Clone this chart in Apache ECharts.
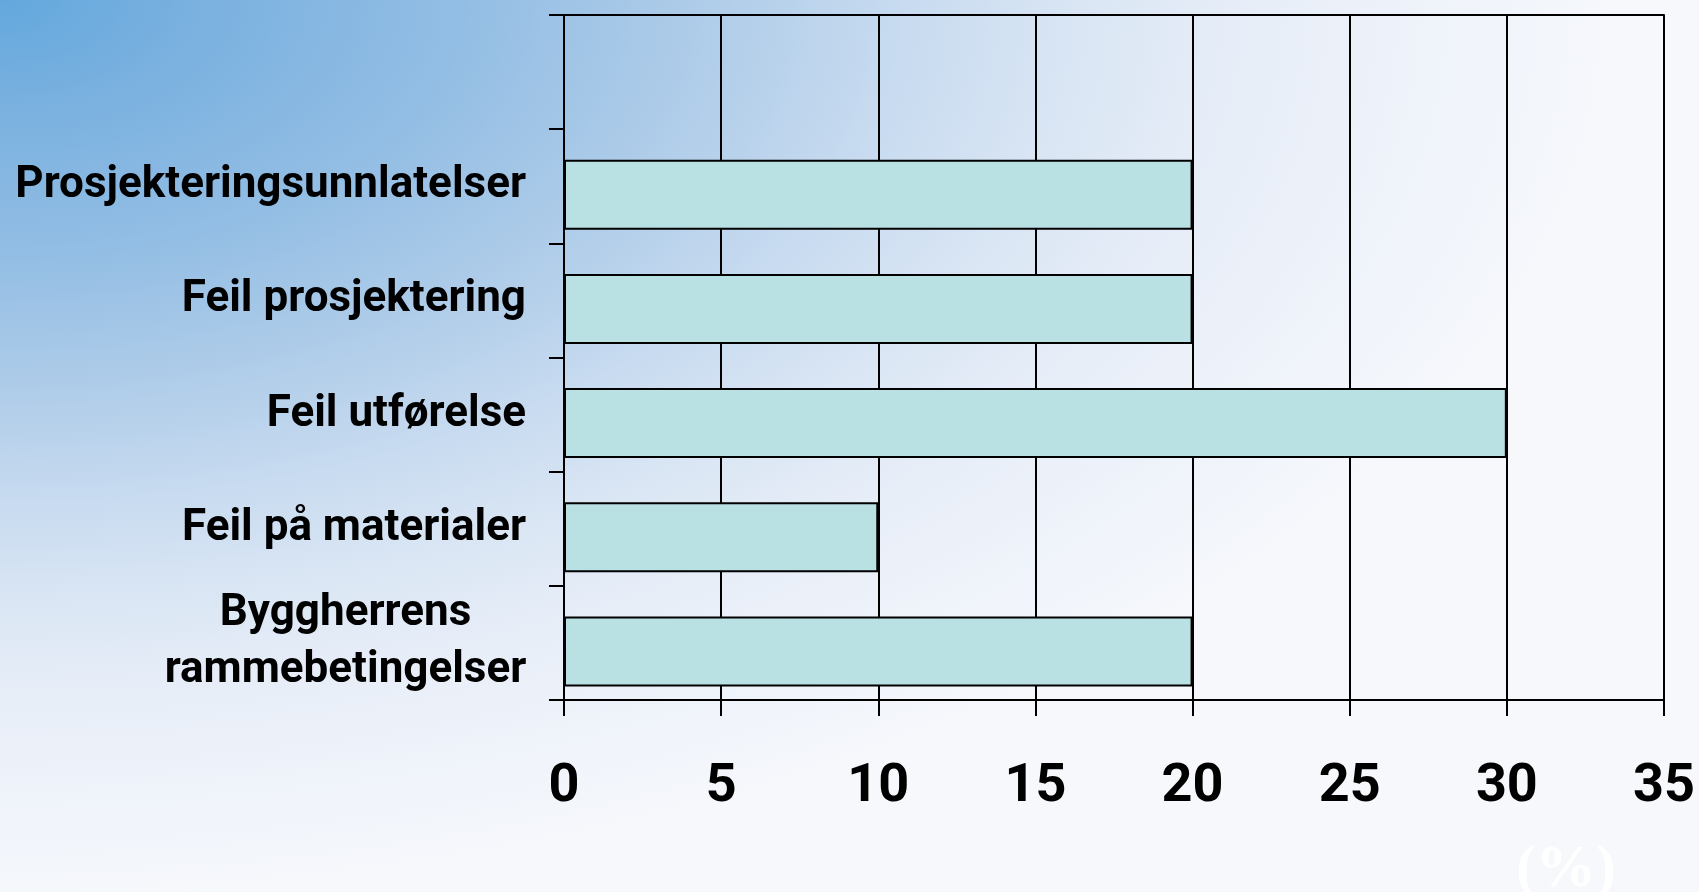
<!DOCTYPE html>
<html>
<head>
<meta charset="utf-8">
<script src="https://cdn.jsdelivr.net/npm/echarts@6/dist/echarts.min.js"></script>
<style>
  html, body { margin: 0; padding: 0; }
  #chart { width: 1699px; height: 892px; }
</style>
</head>
<body>
<div id="chart"></div>
<script>
// data
var categories = ['', 'Prosjekteringsunnlatelser', 'Feil prosjektering', 'Feil utførelse', 'Feil på materialer', 'Byggherrens\nrammebetingelser'];
var values = ['-', 20, 20, 30, 10, 20];
var xTicks = [0, 5, 10, 15, 20, 25, 30, 35];

var font = 'Roboto, "Liberation Sans", sans-serif';
var W = 1699, H = 892, stretch = 1.8;

var myChart = echarts.init(document.getElementById('chart'));
myChart.setOption({
    animation: false,
    backgroundColor: '#f6f8fc',
    grid: {
        left: 564,
        right: 35,
        top: 15,
        bottom: 192,
        outerBoundsMode: 'none'
    },
    xAxis: [{
        type: 'value',
        min: xTicks[0],
        max: xTicks[xTicks.length - 1],
        interval: 5,
        axisLine: {show: true, lineStyle: {color: '#000', width: 2}},
        axisTick: {show: true, length: 16, lineStyle: {color: '#000', width: 2}},
        splitLine: {show: true, lineStyle: {color: '#000', width: 2}},
        axisLabel: {
            margin: 60,
            color: '#000',
            fontFamily: font,
            fontWeight: 'bold',
            fontSize: 54
        }
    }, {
        // top border line
        type: 'value',
        position: 'top',
        min: xTicks[0],
        max: xTicks[xTicks.length - 1],
        axisLine: {show: true, lineStyle: {color: '#000', width: 2}},
        axisTick: {show: false},
        axisLabel: {show: false},
        splitLine: {show: false}
    }],
    yAxis: {
        type: 'category',
        inverse: true,
        data: categories,
        axisLine: {show: true, lineStyle: {color: '#000', width: 2}},
        axisTick: {show: true, length: 15, lineStyle: {color: '#000', width: 2}},
        splitLine: {show: false},
        axisLabel: {
            margin: 38,
            color: '#000',
            fontFamily: font,
            fontWeight: 'bold',
            fontSize: 44,
            lineHeight: 57,
            align: 'right',
            formatter: function (v) {
                if (v.indexOf('\n') >= 0) return '{c|' + v.split('\n').join('}\n{c|') + '}';
                return v;
            },
            rich: {
                c: {
                    align: 'center',
                    width: 361,
                    fontFamily: font,
                    fontWeight: 'bold',
                    fontSize: 44,
                    lineHeight: 57,
                    color: '#000'
                }
            }
        }
    },
    series: [{
        // empty spacer so the bars sit a little below the band centre
        type: 'bar',
        data: [],
        barWidth: 17,
        barGap: 0
    }, {
        type: 'bar',
        data: values,
        barWidth: 70,
        barGap: 0,
        itemStyle: {
            color: '#b9e0e2',
            borderColor: '#000',
            borderWidth: 2
        }
    }],
    graphic: [{
        // elliptical glow from the top-left corner
        type: 'rect',
        z: -10,
        silent: true,
        x: 0,
        y: 0,
        scaleX: stretch,
        shape: {x: 0, y: 0, width: W / stretch, height: H},
        style: {
            fill: new echarts.graphic.RadialGradient(0, 0, 900, [
                {offset: 0, color: '#63a8dd'},
                {offset: 0.11, color: '#78b0df'},
                {offset: 0.28, color: '#92bde4'},
                {offset: 0.44, color: '#b0cde9'},
                {offset: 0.56, color: '#c8dbf0'},
                {offset: 0.67, color: '#dae6f4'},
                {offset: 0.78, color: '#e8eef8'},
                {offset: 0.89, color: '#eff3fa'},
                {offset: 1, color: '#f6f8fc'}
            ], true)
        }
    }, {
        type: 'text',
        left: 1516,
        top: 840,
        style: {
            text: '(%)',
            fill: '#ffffff',
            font: 'bold 60px "Liberation Serif", serif'
        }
    }]
});
</script>
</body>
</html>
